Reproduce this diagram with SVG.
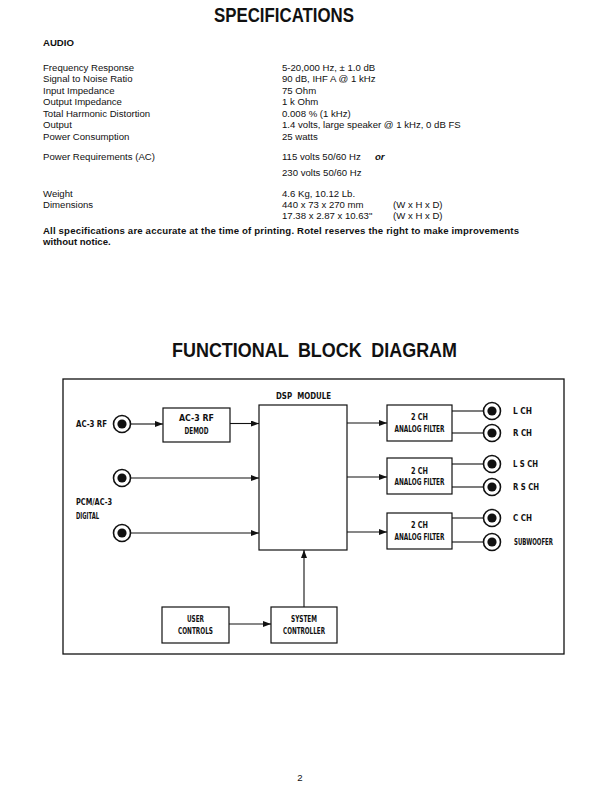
<svg xmlns="http://www.w3.org/2000/svg" width="611" height="791" viewBox="0 0 611 791">
<defs>
<style>
.t{font-family:"Liberation Sans",Arial,sans-serif;font-size:9.6px;fill:#111}
.b{font-weight:bold}
.h{font-family:"Liberation Sans",Arial,sans-serif;font-size:19.5px;font-weight:bold;fill:#111}
.d{font-family:"DejaVu Sans Condensed","DejaVu Sans","Liberation Sans",sans-serif;font-stretch:condensed;font-size:9px;font-weight:bold;fill:#111}
.box{fill:#fff;stroke:#111;stroke-width:1.2}
.ln{stroke:#111;stroke-width:1.1;fill:none}
.jo{fill:#fff;stroke:#111;stroke-width:1.6}
.ji{fill:#111}
</style>
<marker id="ar" viewBox="0 0 8 6" refX="8" refY="3" markerWidth="8" markerHeight="6" markerUnits="userSpaceOnUse" orient="auto">
<path d="M0,0 L8,3 L0,6 z" fill="#111"/>
</marker>
</defs>
<rect width="611" height="791" fill="#fff"/>

<g id="specs">
<text class="h" x="284" y="22" text-anchor="middle" textLength="140" lengthAdjust="spacingAndGlyphs">SPECIFICATIONS</text>
<text class="t b" x="43" y="46">AUDIO</text>
<text class="t" x="43" y="70.5">Frequency Response</text>
<text class="t" x="43" y="82">Signal to Noise Ratio</text>
<text class="t" x="43" y="93.5">Input Impedance</text>
<text class="t" x="43" y="105">Output Impedance</text>
<text class="t" x="43" y="116.5">Total Harmonic Distortion</text>
<text class="t" x="43" y="128">Output</text>
<text class="t" x="43" y="139.5">Power Consumption</text>
<text class="t" x="282" y="70.5">5-20,000 Hz, ± 1.0 dB</text>
<text class="t" x="282" y="82">90 dB, IHF A @ 1 kHz</text>
<text class="t" x="282" y="93.5">75 Ohm</text>
<text class="t" x="282" y="105">1 k Ohm</text>
<text class="t" x="282" y="116.5">0.008 % (1 kHz)</text>
<text class="t" x="282" y="128">1.4 volts, large speaker @ 1 kHz, 0 dB FS</text>
<text class="t" x="282" y="139.5">25 watts</text>
<text class="t" x="43" y="160">Power Requirements (AC)</text>
<text class="t" x="282" y="160">115 volts 50/60 Hz</text>
<text class="t b" x="375" y="160" font-style="italic">or</text>
<text class="t" x="282" y="175.5">230 volts 50/60 Hz</text>
<text class="t" x="43" y="196.5">Weight</text>
<text class="t" x="43" y="207.5">Dimensions</text>
<text class="t" x="282" y="196.5">4.6 Kg, 10.12 Lb.</text>
<text class="t" x="282" y="207.5">440 x 73 x 270 mm</text>
<text class="t" x="393" y="207.5">(W x H x D)</text>
<text class="t" x="282" y="219">17.38 x 2.87 x 10.63"</text>
<text class="t" x="393" y="219">(W x H x D)</text>
<text class="t b" x="43" y="234" textLength="476" lengthAdjust="spacing">All specifications are accurate at the time of printing. Rotel reserves the right to make improvements</text>
<text class="t b" x="43" y="244.5">without notice.</text>
</g>

<text class="h" x="314.5" y="357" text-anchor="middle" word-spacing="5" textLength="285" lengthAdjust="spacingAndGlyphs">FUNCTIONAL BLOCK DIAGRAM</text>

<g id="frame"><rect x="63" y="379" width="501" height="275" fill="none" stroke="#111" stroke-width="1.3"/></g>

<g id="connectors">
<line class="ln" x1="131" y1="424" x2="163" y2="424" marker-end="url(#ar)"/>
<line class="ln" x1="230" y1="423.5" x2="259" y2="423.5" marker-end="url(#ar)"/>
<line class="ln" x1="131" y1="478" x2="259" y2="478" marker-end="url(#ar)"/>
<line class="ln" x1="131" y1="533" x2="259" y2="533" marker-end="url(#ar)"/>
<line class="ln" x1="347" y1="423" x2="387" y2="423" marker-end="url(#ar)"/>
<line class="ln" x1="347" y1="477" x2="387" y2="477" marker-end="url(#ar)"/>
<line class="ln" x1="347" y1="532" x2="387" y2="532" marker-end="url(#ar)"/>
<line class="ln" x1="452" y1="411" x2="483.5" y2="411"/>
<line class="ln" x1="452" y1="433" x2="483.5" y2="433"/>
<line class="ln" x1="452" y1="464" x2="483.5" y2="464"/>
<line class="ln" x1="452" y1="487" x2="483.5" y2="487"/>
<line class="ln" x1="452" y1="518" x2="483.5" y2="518"/>
<line class="ln" x1="452" y1="542" x2="483.5" y2="542"/>
<line class="ln" x1="229" y1="624" x2="271" y2="624" marker-end="url(#ar)"/>
<line class="ln" x1="304" y1="607" x2="304" y2="550" marker-end="url(#ar)"/>
</g>

<g id="jack-ac3rf"><circle class="jo" cx="122" cy="424" r="8.5"/><circle class="ji" cx="122" cy="424" r="4.6"/>
<text class="d" x="76" y="427" textLength="31" lengthAdjust="spacingAndGlyphs">AC-3 RF</text></g>
<g id="jack-digital1"><circle class="jo" cx="122" cy="478" r="8.5"/><circle class="ji" cx="122" cy="478" r="4.6"/></g>
<g id="label-digital">
<text class="d" x="76" y="505" textLength="36" lengthAdjust="spacingAndGlyphs">PCM/AC-3</text>
<text class="d" x="76" y="519" textLength="23" lengthAdjust="spacingAndGlyphs">DIGITAL</text></g>
<g id="jack-digital2"><circle class="jo" cx="122" cy="533" r="8.5"/><circle class="ji" cx="122" cy="533" r="4.6"/></g>

<g id="demod"><rect class="box" x="163" y="408" width="67" height="34"/>
<text class="d" x="196.5" y="421" text-anchor="middle" textLength="35" lengthAdjust="spacingAndGlyphs">AC-3 RF</text>
<text class="d" x="196.5" y="434" text-anchor="middle" textLength="24" lengthAdjust="spacingAndGlyphs">DEMOD</text></g>

<g id="dsp"><rect class="box" x="259" y="405" width="88" height="145"/>
<text class="d" x="303.5" y="399" text-anchor="middle" word-spacing="3" textLength="55" lengthAdjust="spacingAndGlyphs">DSP MODULE</text></g>

<g id="filter1"><rect class="box" x="387" y="405" width="65" height="36"/>
<text class="d" x="419.5" y="420" text-anchor="middle" textLength="17" lengthAdjust="spacingAndGlyphs">2 CH</text>
<text class="d" x="419.5" y="432" text-anchor="middle" textLength="50" lengthAdjust="spacingAndGlyphs">ANALOG FILTER</text></g>
<g id="filter2"><rect class="box" x="387" y="458" width="65" height="36"/>
<text class="d" x="419.5" y="474" text-anchor="middle" textLength="17" lengthAdjust="spacingAndGlyphs">2 CH</text>
<text class="d" x="419.5" y="485" text-anchor="middle" textLength="50" lengthAdjust="spacingAndGlyphs">ANALOG FILTER</text></g>
<g id="filter3"><rect class="box" x="387" y="513" width="65" height="36"/>
<text class="d" x="419.5" y="528" text-anchor="middle" textLength="17" lengthAdjust="spacingAndGlyphs">2 CH</text>
<text class="d" x="419.5" y="540" text-anchor="middle" textLength="50" lengthAdjust="spacingAndGlyphs">ANALOG FILTER</text></g>

<g id="out-lch"><circle class="jo" cx="492" cy="411" r="8.5"/><circle class="ji" cx="492" cy="411" r="4.6"/>
<text class="d" x="513" y="414" textLength="19" lengthAdjust="spacingAndGlyphs">L CH</text></g>
<g id="out-rch"><circle class="jo" cx="492" cy="433" r="8.5"/><circle class="ji" cx="492" cy="433" r="4.6"/>
<text class="d" x="513" y="436" textLength="19" lengthAdjust="spacingAndGlyphs">R CH</text></g>
<g id="out-lsch"><circle class="jo" cx="492" cy="464" r="8.5"/><circle class="ji" cx="492" cy="464" r="4.6"/>
<text class="d" x="513" y="467" textLength="25" lengthAdjust="spacingAndGlyphs">L S CH</text></g>
<g id="out-rsch"><circle class="jo" cx="492" cy="487" r="8.5"/><circle class="ji" cx="492" cy="487" r="4.6"/>
<text class="d" x="513" y="490" textLength="26" lengthAdjust="spacingAndGlyphs">R S CH</text></g>
<g id="out-cch"><circle class="jo" cx="492" cy="518" r="8.5"/><circle class="ji" cx="492" cy="518" r="4.6"/>
<text class="d" x="513" y="521" textLength="19" lengthAdjust="spacingAndGlyphs">C CH</text></g>
<g id="out-sub"><circle class="jo" cx="492" cy="542" r="8.5"/><circle class="ji" cx="492" cy="542" r="4.6"/>
<text class="d" x="514" y="545" textLength="39" lengthAdjust="spacingAndGlyphs">SUBWOOFER</text></g>

<g id="user-controls"><rect class="box" x="162" y="607" width="67" height="36"/>
<text class="d" x="195.5" y="622" text-anchor="middle" textLength="17" lengthAdjust="spacingAndGlyphs">USER</text>
<text class="d" x="195.5" y="634" text-anchor="middle" textLength="35" lengthAdjust="spacingAndGlyphs">CONTROLS</text></g>
<g id="system-controller"><rect class="box" x="271" y="607" width="66" height="36"/>
<text class="d" x="304" y="622" text-anchor="middle" textLength="26" lengthAdjust="spacingAndGlyphs">SYSTEM</text>
<text class="d" x="304" y="634" text-anchor="middle" textLength="42" lengthAdjust="spacingAndGlyphs">CONTROLLER</text></g>

<text class="t" x="300" y="781" text-anchor="middle" font-size="10">2</text>
</svg>
